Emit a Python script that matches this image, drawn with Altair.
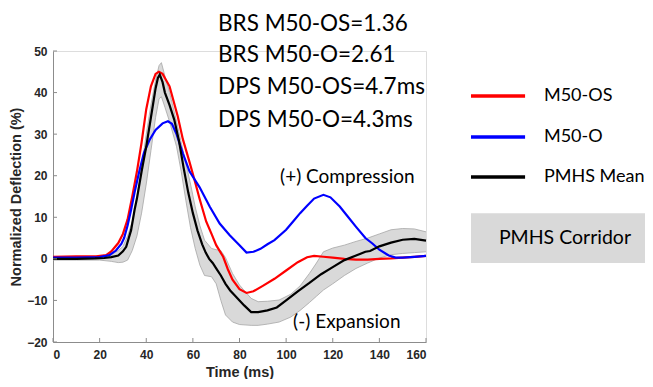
import altair as alt
import pandas as pd

# ---- data ----
red_t = [0, 10, 18.5, 22.8, 25, 28, 30, 32, 34, 36, 38, 40, 42, 44, 45.4, 47, 48, 50, 53.5, 55.7,
         58.6, 60.8, 62.9, 65.7, 68, 70, 73, 75, 77, 80, 83, 86, 90, 95, 100, 105, 109, 112, 116,
         120, 125, 130, 135, 140, 145, 150, 155, 160]
red_y = [0.5, 0.6, 0.6, 0.9, 1.8, 3.8, 6.0, 9.5, 15, 21, 28, 36, 41.5, 44.5, 45, 44.5, 43.5, 41.5, 34.3, 28.8,
         23.2, 18.8, 14.4, 9, 6, 3.3, 0.5, -2.5, -5, -7.3, -8.2, -7.8, -6.5, -4.8, -2.8, -0.8, 0.4, 0.7, 0.5,
         0.3, 0, -0.2, -0.2, 0, 0.1, 0.3, 0.5, 0.7]

blue_t = [0, 10, 20, 24.2, 27, 29.3, 30.5, 32, 33.5, 35, 37, 39, 41.4, 44, 47, 49.3, 51, 53, 55.7, 58.6,
          62.9, 67.2, 71.5, 75.8, 80, 83, 86, 89, 92, 95, 100, 103, 106, 109, 112, 116, 119, 123, 126,
          130, 134, 137, 140, 144, 147, 150, 155, 160]
blue_y = [0.3, 0.3, 0.4, 0.9, 2, 3.6, 5, 8, 11.8, 16, 21, 25.5, 28.6, 31, 32.6, 33.1, 32.5, 30, 25.4, 21,
          17.2, 12.6, 8.5, 5.7, 3.3, 1.5, 1.7, 2.4, 3.5, 4.5, 7, 9, 11, 12.8, 14.5, 15.4, 14.8, 12.6, 10.5,
          7.7, 5, 3.7, 2.2, 0.8, 0.3, 0.3, 0.5, 0.7]

mean_t = [0, 10, 18, 22, 25, 28, 30, 31.4, 33.5, 35, 36, 38, 40, 42, 43, 44, 45, 45.8, 47, 48, 50, 52,
          54, 56, 58, 60, 62, 64, 65.5, 67, 68.5, 70, 72, 74, 76, 78, 80, 82, 85, 88, 92, 96, 100, 105,
          110, 115, 120, 125, 130, 134, 136, 140, 145, 150, 155, 160]
mean_y = [0, 0, 0.1, 0.2, 0.4, 0.8, 1.8, 2.9, 6.9, 11.8, 14.5, 21, 27, 34, 37.5, 41, 43.5, 44.3, 42.5, 40, 37, 33.5,
          28.5, 22, 16, 11, 6.8, 3.5, 1.5, 0, -1, -2.3, -4, -6, -7.6, -8.8, -10, -11.2, -12.8, -12.8, -12.4, -11.7, -10, -7.8,
          -5.8, -3.7, -2, -0.3, 0.8, 1.7, 1.9, 3, 3.9, 4.6, 4.8, 4.4]

corr_t = [0, 10, 20, 25, 28, 30, 32, 34, 36, 38, 40, 42, 44, 45.5, 46.5, 48, 50, 53, 55, 57, 59, 61, 63, 65,
          68, 70, 72, 74, 77, 80, 85, 88, 92, 97, 102, 106, 110, 113, 116, 120, 125, 130, 135, 140, 145,
          150, 155, 160]
corr_hi = [0.3, 0.3, 0.5, 1, 2, 3, 5.5, 9, 15, 22, 30, 37, 43, 46.5, 47.2, 44, 40, 33, 28, 23, 18, 12.5, 8, 4.5,
           2.5, 2.2, 2, 0.3, -3.5, -6.3, -9.5, -10.3, -10.2, -9.9, -8.5, -6.5, -3.5, -1, 1.7, 2.6, 3.3, 4.2, 5, 6, 7,
           7.3, 7.2, 6.5]
corr_lo = [-0.3, -0.3, -0.3, -0.6, -0.9, -0.8, -0.3, 2, 5.5, 11, 18, 26, 34, 38.5, 39, 36.5, 33, 27, 21, 14, 7.5, 2.5, -1.5, -4,
           -4.3, -6, -10, -13.5, -15.2, -15.8, -16, -16, -15.7, -15.2, -14, -12.4, -10.5, -9, -7.5, -6, -4, -2.3, -1, 0.2, 1,
           1.3, 1.5, 1.7]

series_names = ["M50-OS", "M50-O", "PMHS Mean"]
series_colors = ["#ff0000", "#0000ff", "#000000"]
stats_lines = ["BRS M50-OS=1.36", "BRS M50-O=2.61", "DPS M50-OS=4.7ms", "DPS M50-O=4.3ms"]
x_ticks = [0, 20, 40, 60, 80, 100, 120, 140, 160]
y_ticks = [-20, -10, 0, 10, 20, 30, 40, 50]

# ---- tables ----
lines_df = pd.concat([
    pd.DataFrame({"t": red_t, "v": red_y, "s": series_names[0], "o": range(len(red_t))}),
    pd.DataFrame({"t": blue_t, "v": blue_y, "s": series_names[1], "o": range(len(blue_t))}),
    pd.DataFrame({"t": mean_t, "v": mean_y, "s": series_names[2], "o": range(len(mean_t))}),
])
corr_df = pd.DataFrame({"t": corr_t, "hi": corr_hi, "lo": corr_lo})

W, H = 373, 291
xs = alt.Scale(domain=[0, 160], nice=False, zero=False)
ys = alt.Scale(domain=[-20, 50], nice=False, zero=False)
color_scale = alt.Scale(domain=series_names, range=series_colors)

lab = dict(labelFont="Liberation Sans", labelFontWeight="bold", labelFontSize=12, labelColor="#262626",
           titleFont="Liberation Sans", titleFontWeight="bold", titleFontSize=14.5, titleColor="#262626",
           domainColor="#8c8c8c", domainWidth=1, ticks=False, grid=False)

xax = alt.Axis(values=x_ticks, title="Time (ms)", labelPadding=7, titlePadding=5, **lab)
yax = alt.Axis(values=y_ticks, title="Normalized Deflection (%)", labelPadding=6, titlePadding=3, **lab)

base = alt.Chart(corr_df)
area = base.mark_area(color="#d9d9d9", opacity=1).encode(
    x=alt.X("t:Q", scale=xs, axis=xax), y=alt.Y("hi:Q", scale=ys, axis=yax), y2="lo:Q")
edge_hi = base.mark_line(color="#a6a6a6", strokeWidth=0.8).encode(x=alt.X("t:Q", scale=xs), y=alt.Y("hi:Q", scale=ys))
edge_lo = base.mark_line(color="#a6a6a6", strokeWidth=0.8).encode(x=alt.X("t:Q", scale=xs), y=alt.Y("lo:Q", scale=ys))

curves = alt.Chart(lines_df).mark_line(strokeWidth=2.2).encode(
    x=alt.X("t:Q", scale=xs), y=alt.Y("v:Q", scale=ys),
    color=alt.Color("s:N", scale=color_scale, legend=None),
    detail="s:N", order="o:Q")

# inward tick marks
xt_df = pd.DataFrame({"t": x_ticks, "a": -20, "b": -20 + 4 / (H / 70)})
yt_df = pd.DataFrame({"v": y_ticks, "a": 0, "b": 4 / (W / 160)})
xticks = alt.Chart(xt_df).mark_rule(color="#8c8c8c", strokeWidth=1).encode(
    x=alt.X("t:Q", scale=xs), y=alt.Y("a:Q", scale=ys), y2="b:Q")
yticks = alt.Chart(yt_df).mark_rule(color="#8c8c8c", strokeWidth=1).encode(
    y=alt.Y("v:Q", scale=ys), x=alt.X("a:Q", scale=xs), x2="b:Q")

# stats text block (data coordinates above the plot)
stats_df = pd.DataFrame({"txt": stats_lines, "t": 70.8, "v": [56.4, 49.1, 41.3, 33.5]})
stats = alt.Chart(stats_df).mark_text(align="left", baseline="middle", font="Lato", fontSize=22.5,
                                      color="#000000", clip=False).encode(
    x=alt.X("t:Q", scale=xs), y=alt.Y("v:Q", scale=ys), text="txt:N")

ann_df = pd.DataFrame({"txt": ["(+) Compression", "(-) Expansion"], "t": [97.4, 103.0], "v": [19.7, -15.2]})
ann = alt.Chart(ann_df).mark_text(align="left", baseline="middle", font="Lato", fontSize=19,
                                  color="#000000").encode(
    x=alt.X("t:Q", scale=xs), y=alt.Y("v:Q", scale=ys), text="txt:N")

# manual legend
leg_y = [39.2, 29.3, 19.7]
leg_df = pd.DataFrame({"s": series_names, "v": leg_y, "a": 179.3, "b": 202.5, "tx": 210.6})
leg_lines = alt.Chart(leg_df).mark_rule(strokeWidth=3.5, clip=False).encode(
    x=alt.X("a:Q", scale=xs), x2="b:Q", y=alt.Y("v:Q", scale=ys),
    color=alt.Color("s:N", scale=color_scale, legend=None))
leg_text = alt.Chart(leg_df).mark_text(align="left", baseline="middle", font="Lato", fontSize=18,
                                       color="#000000", clip=False).encode(
    x=alt.X("tx:Q", scale=xs), y=alt.Y("v:Q", scale=ys), text="s:N")

box_df = pd.DataFrame({"a": [179.3], "b": [262.0], "lo": [-1.0], "hi": [11.0], "tx": [219.6], "ty": [5.0],
                       "txt": ["PMHS Corridor"]})
box = alt.Chart(box_df).mark_rect(color="#d9d9d9", clip=False).encode(
    x=alt.X("a:Q", scale=xs), x2="b:Q", y=alt.Y("lo:Q", scale=ys), y2="hi:Q")
box_text = alt.Chart(box_df).mark_text(align="center", baseline="middle", font="Lato", fontSize=19.5,
                                       color="#000000", clip=False).encode(
    x=alt.X("tx:Q", scale=xs), y=alt.Y("ty:Q", scale=ys), text="txt:N")

chart = alt.layer(area, edge_hi, edge_lo, curves, xticks, yticks, stats, ann,
                  leg_lines, leg_text, box, box_text).properties(
    width=W, height=H,
    autosize=alt.AutoSizeParams(type="none"),
    padding={"left": 45, "top": 43, "right": 219, "bottom": 37},
).configure_view(stroke=None).configure(background="white")

chart.save("out.html", embed_options={"renderer": "svg", "actions": False})
